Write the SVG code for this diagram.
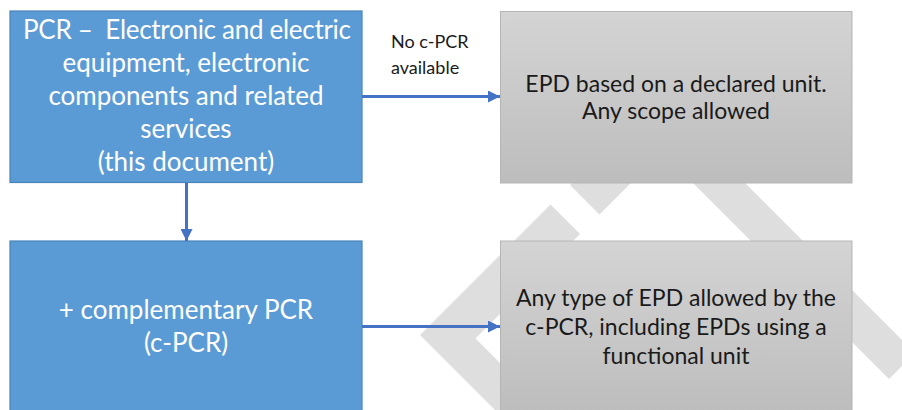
<svg xmlns="http://www.w3.org/2000/svg" width="902" height="410" viewBox="0 0 902 410">
  <defs>
    <linearGradient id="greyFill" x1="0" y1="0" x2="0" y2="1">
      <stop offset="0" stop-color="#d4d4d4"/>
      <stop offset="1" stop-color="#bdbdbd"/>
    </linearGradient>
    <marker id="arrowHead" markerUnits="userSpaceOnUse" markerWidth="13" markerHeight="12" refX="12" refY="6" orient="auto">
      <path d="M0,0 L12,6 L0,12 Z" fill="#4472c4"/>
    </marker>
    <style>
      .blue { fill: #5b9bd5; stroke: #4a84ba; stroke-width: 1.2; }
      .grey { fill: url(#greyFill); stroke: #b5b5b5; stroke-width: 1; }
      .wt { font-family: Lato, "Open Sans", sans-serif; fill: #ffffff; text-anchor: middle; font-size: 26px; white-space: pre; }
      .bt { font-family: Lato, "Open Sans", sans-serif; fill: #1a1a1a; text-anchor: middle; font-size: 23px; }
      .lbl { font-family: Lato, "Open Sans", sans-serif; fill: #1a1a1a; font-size: 18px; }
      .conn { stroke: #4472c4; stroke-width: 3; fill: none; marker-end: url(#arrowHead); }
      .mark { fill: #dedede; }
    </style>
  </defs>

  <rect width="902" height="410" fill="#ffffff"/>

  <!-- background mark: open diamond ring -->
  <g id="backdrop">
    <polygon class="mark" points="550.5,204.5 420,335 505,420 557,420 475.5,338.5 580,234"/>
    <polygon class="mark" points="570,185 658.5,96.5 915,353 889,379 662,152 599.5,214.5"/>
  </g>

  <g id="pcr-main">
    <rect class="blue" x="10" y="11" width="352" height="171.5"/>
    <text class="wt" x="187" y="39" xml:space="preserve" textLength="328" lengthAdjust="spacing">PCR –  Electronic and electric</text>
    <text class="wt" x="186" y="72">equipment, electronic</text>
    <text class="wt" x="186" y="105">components and related</text>
    <text class="wt" x="186" y="138">services</text>
    <text class="wt" x="186" y="171">(this document)</text>
  </g>

  <g id="c-pcr">
    <rect class="blue" x="10" y="241" width="352" height="180"/>
    <text class="wt" x="186" y="318.5">+ complementary PCR</text>
    <text class="wt" x="186" y="352">(c-PCR)</text>
  </g>

  <g id="epd-declared">
    <rect class="grey" x="500.5" y="11.5" width="351.5" height="171.5"/>
    <text class="bt" x="676" y="91.5">EPD based on a declared unit.</text>
    <text class="bt" x="676" y="118.5">Any scope allowed</text>
  </g>

  <g id="epd-any">
    <rect class="grey" x="500.5" y="241" width="351.5" height="172"/>
    <text class="bt" x="676" y="305.5">Any type of EPD allowed by the</text>
    <text class="bt" x="676" y="334.5">c-PCR, including EPDs using a</text>
    <text class="bt" x="676" y="363.5">functional unit</text>
  </g>

  <g id="connectors">
    <line class="conn" x1="186.5" y1="182.5" x2="186.5" y2="241"/>
    <line class="conn" x1="362" y1="96.5" x2="500" y2="96.5"/>
    <line class="conn" x1="362" y1="326.5" x2="500" y2="326.5"/>
    <text class="lbl" x="391" y="47.5">No c-PCR</text>
    <text class="lbl" x="391" y="73.5">available</text>
  </g>
</svg>
